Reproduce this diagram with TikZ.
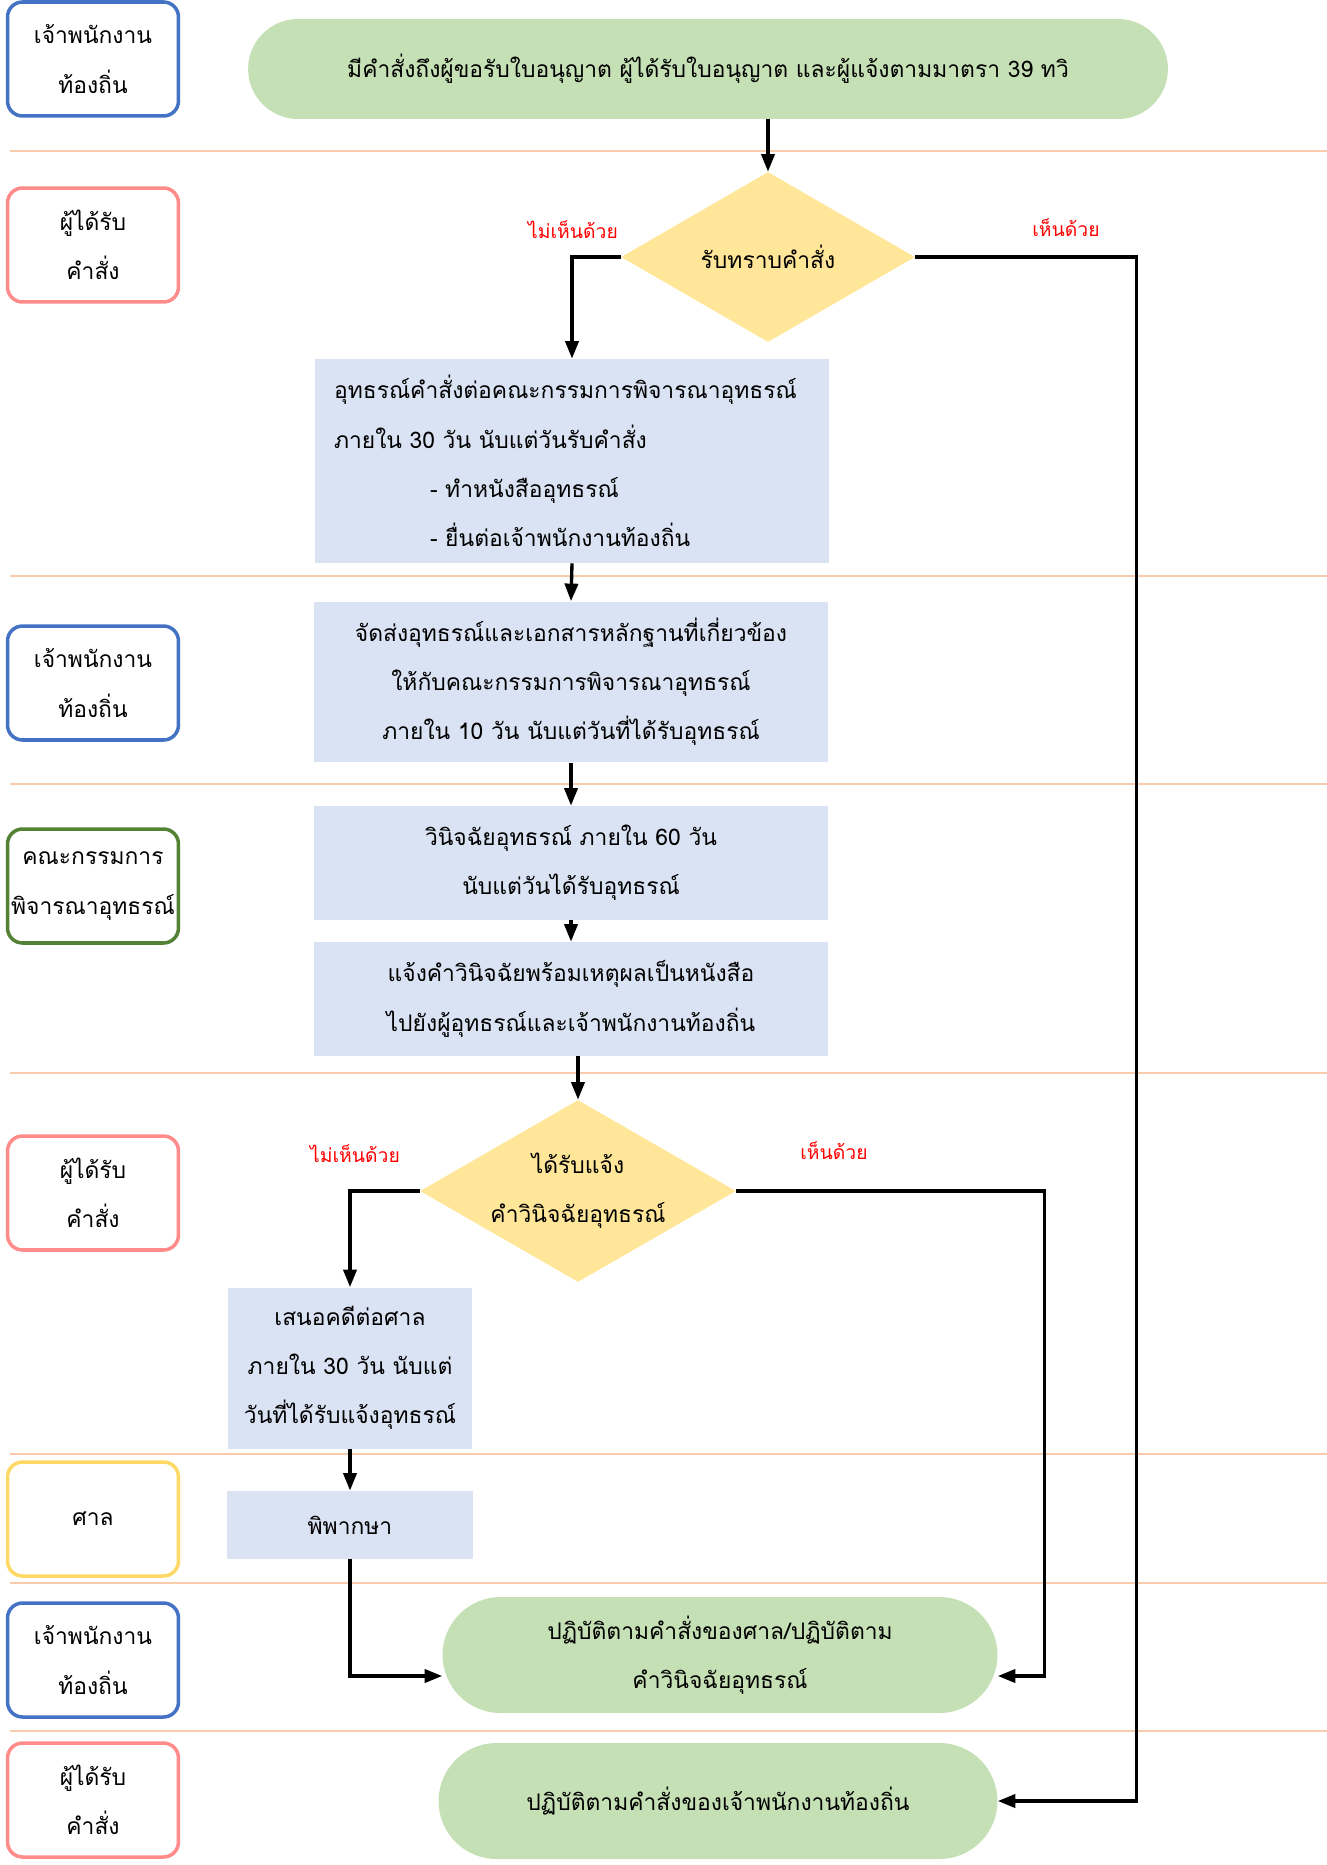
\documentclass[tikz,border=0pt]{standalone}
\usepackage{fontspec}
\setmainfont[Script=Thai]{Loma}
\usetikzlibrary{shapes.geometric, arrows.meta, calc}

\definecolor{laneblue}{HTML}{4472C4}
\definecolor{lanepink}{HTML}{FF8B8B}
\definecolor{lanegreen}{HTML}{548235}
\definecolor{laneyellow}{HTML}{FFD966}
\definecolor{taskfill}{HTML}{DAE3F3}
\definecolor{decfill}{HTML}{FFE699}
\definecolor{termfill}{HTML}{C5E0B4}
\definecolor{sepcol}{HTML}{F8CBAD}

\begin{document}
\begin{tikzpicture}[x=0.02cm, y=-0.02cm,
    lane/.style={draw, line width=2pt, rounded corners=0.3cm, inner xsep=0pt,
        minimum width=3.42cm, minimum height=2.28cm, align=center,
        font=\fontsize{13}{28}\selectfont},
    task/.style={fill=taskfill, minimum width=10.3cm, inner xsep=3pt, align=center,
        font=\fontsize{13}{28}\selectfont},
    decision/.style={diamond, fill=decfill, inner sep=0pt, align=center,
        font=\fontsize{13}{28}\selectfont},
    terminal/.style={fill=termfill, rounded corners=1cm, align=center,
        font=\fontsize{13}{28}\selectfont},
    answer/.style={text=red, font=\fontsize{11}{12}\selectfont},
    flow/.style={line width=1.9pt, -{Triangle[length=10pt,width=7.5pt]}},
    sep/.style={sepcol, line width=0.9pt}]

    \useasboundingbox (0,0) rectangle (1327,1865);

    % Lane separators
    \foreach \y in {151,576,784,1073,1454,1583,1731}
        \draw[sep] (10,\y) -- (1327,\y);

    % Lane labels
    \foreach \i/\y/\c/\t in {1/59/laneblue/{เจ้าพนักงาน\\ท้องถิ่น},
            2/245/lanepink/{ผู้ได้รับ\\คำสั่ง},
            3/683/laneblue/{เจ้าพนักงาน\\ท้องถิ่น},
            4/886/lanegreen/{คณะกรรมการ\\พิจารณาอุทธรณ์},
            5/1193/lanepink/{ผู้ได้รับ\\คำสั่ง},
            6/1519/laneyellow/{ศาล},
            7/1660/laneblue/{เจ้าพนักงาน\\ท้องถิ่น},
            8/1800/lanepink/{ผู้ได้รับ\\คำสั่ง}}
        \node[lane, draw=\c] (L\i) at (93,\y) {\t};

    % Start
    \node[terminal, minimum width=18.4cm, minimum height=2cm] (P1) at (708,69)
        {มีคำสั่งถึงผู้ขอรับใบอนุญาต ผู้ได้รับใบอนุญาต และผู้แจ้งตามมาตรา 39 ทวิ};

    % First decision
    \node[decision, shape aspect=1.73, minimum width=5.88cm, minimum height=3.4cm] (D1) at (768,257) {รับทราบคำสั่ง};
    \node[answer] (n1) at (573,230) {ไม่เห็นด้วย};
    \node[answer] (y1) at (1066,228) {เห็นด้วย};

    % Appeal steps
    \node[task, minimum height=4.08cm, text width=9.52cm, inner xsep=0.38cm, align=left] (A1) at (572,461)
        {อุทธรณ์คำสั่งต่อคณะกรรมการพิจารณาอุทธรณ์\\ภายใน 30 วัน นับแต่วันรับคำสั่ง\\\hspace*{1.92cm}- ทำหนังสืออุทธรณ์\\\hspace*{1.92cm}- ยื่นต่อเจ้าพนักงานท้องถิ่น};
    \node[task, minimum height=3.22cm] (A2) at (571,682)
        {จัดส่งอุทธรณ์และเอกสารหลักฐานที่เกี่ยวข้อง\\ให้กับคณะกรรมการพิจารณาอุทธรณ์\\ภายใน 10 วัน นับแต่วันที่ได้รับอุทธรณ์};
    \node[task, minimum height=2.28cm] (A3) at (571,863)
        {วินิจฉัยอุทธรณ์ ภายใน 60 วัน\\นับแต่วันได้รับอุทธรณ์};
    \node[task, minimum height=2.28cm] (A4) at (571,999)
        {แจ้งคำวินิจฉัยพร้อมเหตุผลเป็นหนังสือ\\ไปยังผู้อุทธรณ์และเจ้าพนักงานท้องถิ่น};

    % Second decision
    \node[decision, shape aspect=1.74, minimum width=6.32cm, minimum height=3.64cm] (D2) at (578,1191)
        {ได้รับแจ้ง\\คำวินิจฉัยอุทธรณ์};
    \node[answer] (n2) at (355,1154) {ไม่เห็นด้วย};
    \node[answer] (y2) at (834,1151) {เห็นด้วย};

    % Court
    \node[task, minimum width=4.88cm, minimum height=3.22cm] (A5) at (350,1368)
        {เสนอคดีต่อศาล\\ภายใน 30 วัน นับแต่\\วันที่ได้รับแจ้งอุทธรณ์};
    \node[task, minimum width=4.94cm, minimum height=1.36cm] (A6) at (350,1525) {พิพากษา};

    % End
    \node[terminal, minimum width=11.1cm, minimum height=2.32cm, rounded corners=1.16cm] (P2) at (720,1655)
        {ปฏิบัติตามคำสั่งของศาล/ปฏิบัติตาม\\คำวินิจฉัยอุทธรณ์};
    \node[terminal, minimum width=11.18cm, minimum height=2.32cm, rounded corners=1.16cm] (P3) at (718,1801)
        {ปฏิบัติตามคำสั่งของเจ้าพนักงานท้องถิ่น};

    % Connectors
    \coordinate (r1) at ($(P3.east)+(139,0)$);
    \coordinate (r2) at ($(P2.east)+(47,21)$);
    \draw[flow] (P1.south -| D1.north) -- (D1.north);
    \draw[flow] (D1.west) -| (A1.north);
    \draw[flow] (D1.east) -| (r1) -- (P3.east);
    \draw[flow] (A1.south) -- (A2.north);
    \draw[flow] (A2.south) -- (A3.north);
    \draw[flow] (A3.south) -- (A4.north);
    \draw[flow] (A4.south -| D2.north) -- (D2.north);
    \draw[flow] (D2.west) -| (A5.north);
    \draw[flow] (D2.east) -| (r2) -- (r2 -| P2.east);
    \draw[flow] (A5.south) -- (A6.north);
    \draw[flow] (A6.south) |- ($(P2.west)+(0,21)$);
\end{tikzpicture}
\end{document}
